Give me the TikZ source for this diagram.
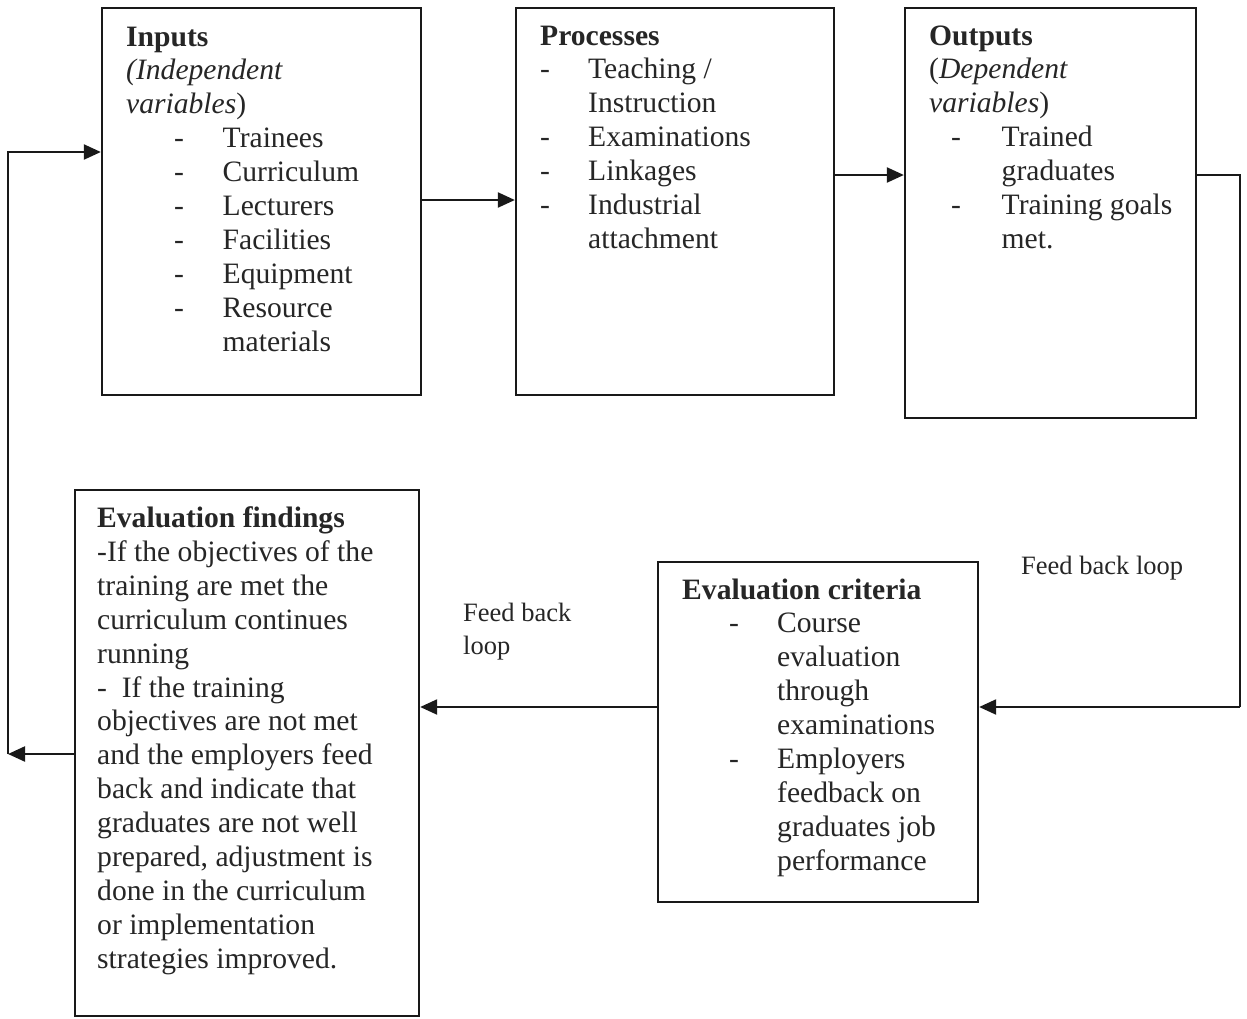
\documentclass[tikz,border=0pt]{standalone}
\usepackage{fontspec}
\setmainfont{Liberation Serif}
\usetikzlibrary{arrows.meta}
\newcommand\fsz{\fontsize{29.6}{33.9}\selectfont}
\newcommand\lfsz{\fontsize{26.5}{33}\selectfont}
\newcommand\itm[3]{\hspace*{#1}\makebox[#2][l]{-}#3}
\newcommand\cnt[2]{\hspace*{#1}#2}
\tikzset{
  box/.style={draw=black!90, line width=2.3pt, fill=none, inner sep=0pt},
  txt/.style={anchor=base west, inner sep=0pt, font=\fsz, text=black!85},
  lbl/.style={anchor=base west, inner sep=0pt, font=\lfsz, text=black!85},
  conn/.style={draw=black!90, line width=2.2pt},
  arr/.style={conn, -{Triangle[length=17pt,width=15pt]}}
}
\begin{document}
\begin{tikzpicture}[x=1pt,y=-1pt]
\useasboundingbox[fill=white] (0,0) rectangle (1247,1018);
% boxes
\node[box, minimum width=319pt, minimum height=387pt] (inB) at (261.5,201.5) {};
\node[box, minimum width=318pt, minimum height=387pt] (procB) at (675,201.5) {};
\node[box, minimum width=291pt, minimum height=410pt] (outB) at (1050.5,213) {};
\node[box, minimum width=344pt, minimum height=526pt] (findB) at (247,753) {};
\node[box, minimum width=320pt, minimum height=340pt] (critB) at (818,732) {};
% texts
\node[txt] (inT) at (126,46) {\begin{tabular}[t]{@{}l@{}}
\textbf{Inputs}\\
\textit{(Independent}\\
\textit{variables})\\
\itm{48pt}{48.5pt}{Trainees}\\
\itm{48pt}{48.5pt}{Curriculum}\\
\itm{48pt}{48.5pt}{Lecturers}\\
\itm{48pt}{48.5pt}{Facilities}\\
\itm{48pt}{48.5pt}{Equipment}\\
\itm{48pt}{48.5pt}{Resource}\\
\cnt{96.5pt}{materials}
\end{tabular}};
\node[txt] (procT) at (540,45) {\begin{tabular}[t]{@{}l@{}}
\textbf{Processes}\\
\itm{0pt}{48pt}{Teaching /}\\
\cnt{48pt}{Instruction}\\
\itm{0pt}{48pt}{Examinations}\\
\itm{0pt}{48pt}{Linkages}\\
\itm{0pt}{48pt}{Industrial}\\
\cnt{48pt}{attachment}
\end{tabular}};
\node[txt] (outT) at (929,45) {\begin{tabular}[t]{@{}l@{}}
\textbf{Outputs}\\
(\textit{Dependent}\\
\textit{variables})\\
\itm{22pt}{50.5pt}{Trained}\\
\cnt{72.5pt}{graduates}\\
\itm{22pt}{50.5pt}{Training goals}\\
\cnt{72.5pt}{met.}
\end{tabular}};
\node[txt] (findT) at (97,527.5) {\begin{tabular}[t]{@{}l@{}}
\textbf{Evaluation findings}\\
-If the objectives of the\\
training are met the\\
curriculum continues\\
running\\
-\ \ If the training\\
objectives are not met\\
and the employers feed\\
back and indicate that\\
graduates are not well\\
prepared, adjustment is\\
done in the curriculum\\
or implementation\\
strategies improved.
\end{tabular}};
\node[txt] (critT) at (682,599) {\begin{tabular}[t]{@{}l@{}}
\textbf{Evaluation criteria}\\
\itm{47pt}{48pt}{Course}\\
\cnt{95pt}{evaluation}\\
\cnt{95pt}{through}\\
\cnt{95pt}{examinations}\\
\itm{47pt}{48pt}{Employers}\\
\cnt{95pt}{feedback on}\\
\cnt{95pt}{graduates job}\\
\cnt{95pt}{performance}
\end{tabular}};
% labels
\node[lbl] (fbR) at (1021,574) {Feed back loop};
\node[lbl] (fbL) at (463,621) {\begin{tabular}[t]{@{}l@{}}Feed back\\loop\end{tabular}};
% coordinates
\coordinate (y175) at (0,175);
\coordinate (y707) at (0,707);
\coordinate (y754) at (0,754);
\coordinate (y152) at (0,152);
\coordinate (rTop) at (1240,175);
\coordinate (rBot) at (1240,707);
\coordinate (lBot) at (8,754);
\coordinate (lTop) at (8,152);
% connectors
\draw[arr] (inB.east |- 0,200) -- (procB.west |- 0,200);
\draw[arr] (procB.east |- y175) -- (outB.west |- y175);
\draw[conn] (outB.east |- y175) -- (rTop) -- (rBot);
\draw[arr] (rBot) -- (critB.east |- y707);
\draw[arr] (critB.west |- y707) -- (findB.east |- y707);
\draw[arr] (findB.west |- y754) -- (lBot);
\draw[arr] (lBot) -- (lTop) -- (inB.west |- y152);
\end{tikzpicture}
\end{document}
